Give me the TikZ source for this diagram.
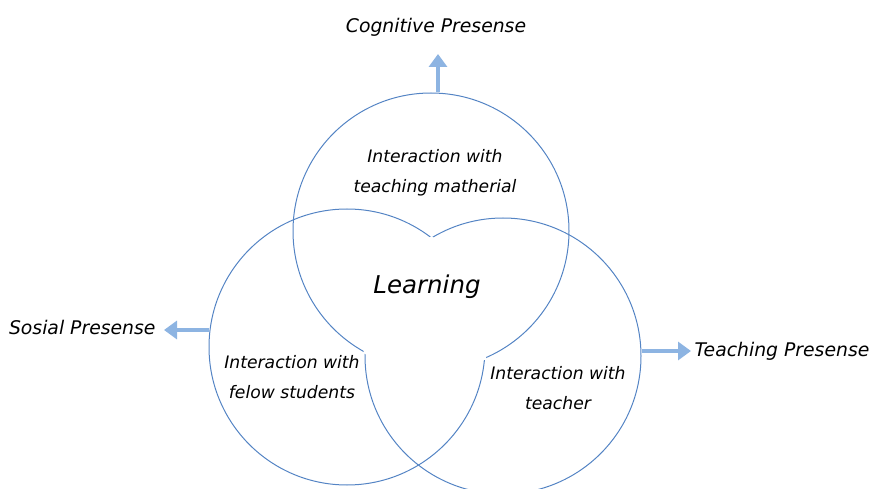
\documentclass[tikz,border=0pt]{standalone}
\usepackage{fontspec}
\setmainfont{DejaVu Sans}
\usetikzlibrary{arrows.meta}
\definecolor{ringblue}{RGB}{84,132,196}
\definecolor{arrowblue}{RGB}{141,180,226}
\begin{document}
\begin{tikzpicture}[x=1pt,y=-1pt,
  ring/.style={circle,draw=ringblue,line width=1pt,minimum size=276pt,inner sep=0pt},
  presarrow/.style={draw=arrowblue,line width=4.8pt,-{Triangle[length=13pt,width=18pt]}},
  lbl/.style={font=\itshape\fontsize{17.2}{30}\selectfont,align=center,text=black},
  pres/.style={font=\itshape\fontsize{18.8}{20}\selectfont,text=black}]
\useasboundingbox (0,0) rectangle (871,489);
\node[ring] (top) at (431,231) {};
\node[ring] (left) at (347,347) {};
\node[ring] (right) at (503,356) {};
% erase the lines inside the triple overlap
\begin{scope}
  \clip (431,231) circle (139.5pt);
  \clip (347,347) circle (139.5pt);
  \clip (503,356) circle (139.5pt);
  \fill[white] (0,0) rectangle (871,489);
\end{scope}
\coordinate (cogtip) at (438,54);
\coordinate (sostip) at (164,330);
\coordinate (teatip) at (691,351);
\draw[presarrow] (top.north -| cogtip) -- (cogtip);
\draw[presarrow] (left.west |- sostip) -- (sostip);
\draw[presarrow] (right.east |- teatip) -- (teatip);
\node[pres] (cog) at (436,27) {Cognitive Presense};
\node[pres,anchor=east] (sos) at (159,327) {Sosial Presense};
\node[pres,anchor=west] (tea) at (691,351) {Teaching Presense};
\node[lbl] (tm) at (435,173) {Interaction with\\teaching matherial};
\node[lbl] (fs) at (292,377) {Interaction with\\felow students};
\node[lbl] (te) at (558,388) {Interaction with\\teacher};
\node[font=\itshape\fontsize{24.5}{28}\selectfont,text=black] (learn) at (427,287) {Learning};
\end{tikzpicture}
\end{document}
